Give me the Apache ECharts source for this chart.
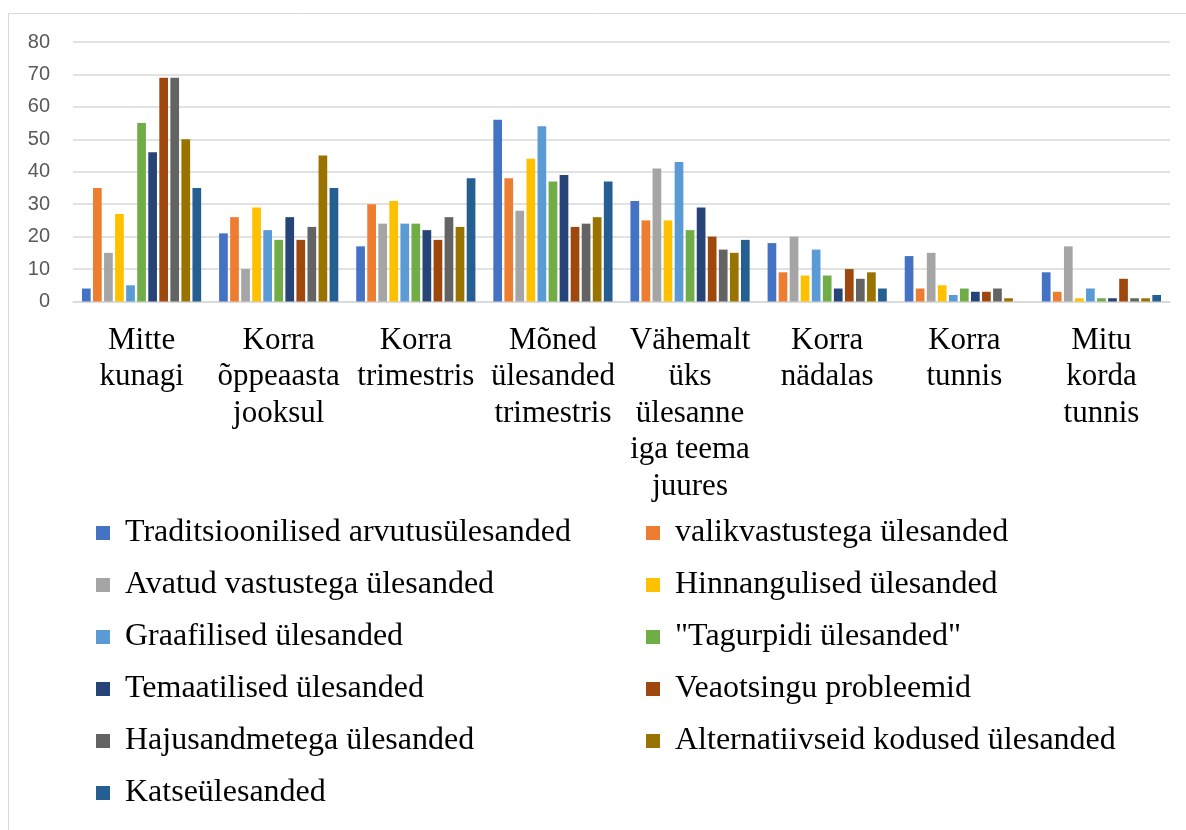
<!DOCTYPE html>
<html>
<head>
<meta charset="utf-8">
<script src="https://cdn.jsdelivr.net/npm/echarts@6/dist/echarts.min.js"></script>
<style>
html,body{margin:0;padding:0;background:#fff;}
#main{width:1186px;height:830px;}
</style>
</head>
<body>
<div id="main"></div>
<script>
const categories = [
  "Mitte\nkunagi",
  "Korra\nõppeaasta\njooksul",
  "Korra\ntrimestris",
  "Mõned\nülesanded\ntrimestris",
  "Vähemalt\nüks\nülesanne\niga teema\njuures",
  "Korra\nnädalas",
  "Korra\ntunnis",
  "Mitu\nkorda\ntunnis"
];
const seriesNames = [
  "Traditsioonilised arvutusülesanded",
  "valikvastustega ülesanded",
  "Avatud vastustega ülesanded",
  "Hinnangulised ülesanded",
  "Graafilised ülesanded",
  "\"Tagurpidi ülesanded\"",
  "Temaatilised ülesanded",
  "Veaotsingu probleemid",
  "Hajusandmetega ülesanded",
  "Alternatiivseid kodused ülesanded",
  "Katseülesanded"
];
const traditsioonilised = [4, 21, 17, 56, 31, 18, 14, 9];
const valikvastustega   = [35, 26, 30, 38, 25, 9, 4, 3];
const avatud            = [15, 10, 24, 28, 41, 20, 15, 17];
const hinnangulised     = [27, 29, 31, 44, 25, 8, 5, 1];
const graafilised       = [5, 22, 24, 54, 43, 16, 2, 4];
const tagurpidi         = [55, 19, 24, 37, 22, 8, 4, 1];
const temaatilised      = [46, 26, 22, 39, 29, 4, 3, 1];
const veaotsingu        = [69, 19, 19, 23, 20, 10, 3, 7];
const hajusandmetega    = [69, 23, 26, 24, 16, 7, 4, 1];
const alternatiivseid   = [50, 45, 23, 26, 15, 9, 1, 1];
const katse             = [35, 35, 38, 37, 19, 4, 0, 2];
const yTicks = [0, 10, 20, 30, 40, 50, 60, 70, 80];

const values = [traditsioonilised, valikvastustega, avatud, hinnangulised, graafilised,
  tagurpidi, temaatilised, veaotsingu, hajusandmetega, alternatiivseid, katse];
const colors = ["#4472C4","#ED7D31","#A5A5A5","#FFC000","#5B9BD5","#70AD47",
  "#264478","#9E480E","#636363","#997300","#255E91"];

const chart = echarts.init(document.getElementById('main'), null, {renderer:'canvas'});
const legendText = {fontFamily:'"Liberation Serif", "Times New Roman", serif', fontSize:32, color:'#000', lineHeight:32, padding:[0,0,0,10]};
const legendCommon = {orient:'vertical', icon:'rect', itemWidth:14, itemHeight:14, itemGap:20, top:517, textStyle:legendText, selectedMode:false, padding:0};
chart.setOption({
  animation:false,
  color: colors,
  graphic:[{type:'rect', shape:{x:8.5,y:13.5,width:1300,height:1000}, style:{fill:'none', stroke:'#D9D9D9', lineWidth:1}, silent:true}],
  grid:{left:73, right:16, top:42, height:259.5, containLabel:false},
  legend:[
    Object.assign({left:96, data: seriesNames.filter((n,i)=>i%2===0)}, legendCommon),
    Object.assign({left:646, data: seriesNames.filter((n,i)=>i%2===1)}, legendCommon)
  ],
  xAxis:{type:'category', data:categories,
    axisLine:{lineStyle:{color:'#D9D9D9', width:1.5}}, axisTick:{show:false},
    axisLabel:{interval:0, margin:21, fontFamily:'"Liberation Serif", "Times New Roman", serif', fontSize:31, lineHeight:36.5, color:'#000', verticalAlign:'top'}
  },
  yAxis:{type:'value', min:yTicks[0], max:yTicks[yTicks.length-1], interval:10,
    axisLine:{show:false}, axisTick:{show:false},
    splitLine:{lineStyle:{color:'#D9D9D9', width:1.5}},
    axisLabel:{margin:23, fontFamily:'"Liberation Sans", Arial, sans-serif', fontSize:20, color:'#595959'}
  },
  series: seriesNames.map((name,i)=>({
    name:name, type:'bar', data:values[i], barWidth:8.7, barGap:'27%',
    itemStyle:{color:colors[i]}
  }))
});
</script>
</body>
</html>
